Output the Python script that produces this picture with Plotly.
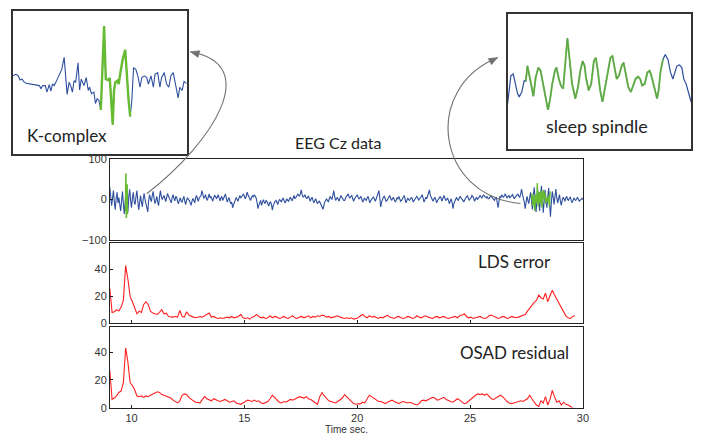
import plotly.graph_objects as go

W, H = 702, 442

# ---------------- data ----------------
EEG_T0, EEG_DT = 9.04, 0.04
eeg_uv = [
    30, 8, -15, 4, 22, -6, -25, 2, 18, -8, 5, -12, -28, -4, 20, -10, -35, -5, 15, -14,
    -30, 6, 25, -2, -20, 4, 18, -6, -12, 8, 22, -4, -25, -8, 10, -6, -18, 2, 15, 0,
    -8, -20, -30, -4, 12, 2, -5, 10, 20, 2, -10, -2, 8, -6, -15, 6, 22, 8, 0, 6,
    10, 2, -5, 6, 15, 8, 2, -6, -8, 4, 12, 3, -3, 8, 6, -4, -10, -2, 4, -4,
    -6, 2, 8, -4, -12, -2, 5, 0, -2, -8, -14, -4, 3, -2, -8, 4, 10, 2, -4, 4,
    6, 10, 22, 8, 4, 6, 12, 2, -2, 6, 14, 4, 8, 2, -4, 4, 10, 8, 3, 6,
    12, 4, -3, 4, 8, -2, 2, 8, 14, 2, -6, 0, 5, -4, -10, -6, -20, -12, -8, 0,
    5, 0, -4, 4, 10, 4, 6, 10, 14, 6, 2, 8, 18, 12, 8, 4, -2, 6, 10, 6,
    12, 8, 4, -6, -22, -14, -8, -2, -14, -6, 0, -6, -10, -2, -4, -10, -16, -8, -6, -12,
    -26, -14, -8, -4, -2, -8, -12, -4, 0, -2, -6, 0, 4, -2, -8, -4, 2, -2, -4, 2,
    6, 0, -2, 4, 10, 2, 4, 8, 14, 10, 8, 14, 24, 12, 6, 8, 12, 6, 2, 6,
    8, 2, -4, 2, 6, -2, -8, -2, 2, -4, -10, -6, -4, -8, -12, -18, -24, -12, -6, -2,
    2, -2, -6, 2, 8, 4, 0, 10, 22, 8, -2, 2, 6, 0, -4, 4, 10, 6, 2, -2,
    -2, 4, 8, 10, 14, 6, 4, 8, 10, 2, -4, 2, 6, 8, 12, 6, 2, 4, 8, 2,
    -6, -2, 4, 0, -2, 4, 8, 0, -8, -2, 2, 4, 6, 0, -4, 2, 10, 14, 22, 4,
    -18, -6, 4, 6, 8, 2, -4, -2, 2, 6, 10, 4, -2, 2, 6, 0, -6, -2, 4, 2,
    8, 2, -4, -2, 2, 6, 10, 2, -8, -2, 4, 0, -2, 2, 6, 2, -6, -2, 2, 4,
    8, 4, -2, 2, 4, 8, 12, 4, -6, 0, 6, 2, 10, 16, 24, 10, 4, 0, -4, 2,
    6, 0, -8, -2, 2, 4, 8, 2, -4, 4, 10, 4, -2, 0, 4, -2, -10, -4, 2, -6,
    -22, -10, -4, 2, 6, 0, -2, 4, 8, 4, 2, -2, -6, 0, 4, 6, 10, 4, -2, 2,
    4, 10, 8, 2, -4, 2, 6, 0, 2, 6, 10, 6, 4, 8, 12, 8, 6, 4, 8, 2,
    2, 6, 10, 6, 4, 0, -2, 4, 6, -6, -20, -4, 8, 4, 12, 8, 6, 10, 14, 8,
    4, 8, 10, 4, 6, 10, 12, 6, 2, 6, 8, 12, 14, 8, 6, 14, 26, 12, 4, -6,
    -22, -6, 8, -2, -10, 6, 18, -4, -24, 8, 30, 2, -30, -6, 22, 4, -28, 10, 34, 6,
    -32, -4, 24, 4, -20, 6, 28, -8, -42, -6, 20, 6, -12, 8, 26, 4, -8, 2, 12, -4,
    -14, -2, 6, 2, -4, 4, 8, 0, -2, 4, 6, -2, -8, -2, 4, 0, -2, 2, 6, 0,
    -4, -1, 2, 3, 0,
]

ERR_T0, ERR_DT = 9.04, 0.1
lds_error = [
    26, 8, 8.5, 10, 9, 12, 17, 43, 33, 20,
    16, 12, 7, 9, 8, 14, 16, 14, 9, 7.5,
    7, 6.5, 8, 10, 7, 7.5, 5, 4.5, 4.5, 5,
    4.5, 9.5, 5, 4.5, 8.5, 6, 5, 4.5, 4, 4.5,
    5, 4.5, 5.5, 7, 7.5, 4.5, 5, 4, 3.5, 4,
    3.5, 4, 4.5, 4, 5, 4, 4.5, 5, 6.5, 4,
    3.5, 4, 3, 4.5, 5, 6.5, 5, 4, 4.5, 3.5,
    4, 5.5, 4, 5, 4.5, 3.5, 4, 5, 4, 3.5,
    4.5, 5.5, 4, 3.5, 4.5, 5, 4, 4.5, 5.5, 4,
    5, 4.5, 5.5, 5, 6, 5.5, 4.5, 5, 4, 4.5,
    5, 5.5, 4.5, 4, 3.5, 4, 3.5, 4, 3, 3.5,
    4, 5.5, 6.5, 5, 4, 5.5, 4.5, 5, 4, 3.5,
    4.5, 4, 5, 6, 4.5, 4, 3.5, 4.5, 5, 4,
    3.5, 4, 5, 4.5, 3.5, 4, 5.5, 4.5, 4, 5,
    5.5, 4.5, 4, 3.5, 4.5, 5, 4, 4.5, 5, 4,
    3.5, 4, 4.5, 5, 4, 5.5, 6, 7, 5, 4,
    4.5, 3.5, 4, 4.5, 5, 4, 3.5, 4, 5.5, 6,
    5, 4, 3.5, 4, 5, 4.5, 3.5, 4, 5, 4.5,
    4, 4.5, 5, 6, 6.5, 9, 11.5, 13, 15.5, 17,
    21, 19, 18, 22.5, 16, 20.5, 24.5, 21, 18, 14,
    12, 8, 5.5, 4, 3.5, 5, 5.5,
]

osad_residual = [
    27, 6, 7, 8.5, 11, 12, 18, 43, 33, 18,
    16, 13, 8.5, 8, 8.5, 7.5, 8.5, 8, 9, 10,
    10.5, 11.5, 11, 9.5, 9, 8.5, 8, 7, 5.5, 4.5,
    3.5, 5, 9, 10, 9.5, 7.5, 6, 5, 4, 3.5,
    3.5, 6, 8, 6.5, 5.5, 5, 6.5, 5.5, 5, 4.5,
    5.5, 6, 5, 4, 4.5, 5, 3.5, 3, 2.5, 3.5,
    4.5, 5.5, 5, 4.5, 5.5, 4.5, 5, 3.5, 3, 4,
    4.5, 6.5, 9, 7.5, 5.5, 4, 3.5, 4.5, 4, 5,
    6, 5.5, 6.5, 7, 8, 7.5, 7, 8, 6.5, 6,
    5, 3.5, 2.5, 8, 11, 8.5, 6.5, 5, 4.5, 4,
    3.5, 4.5, 5.5, 7, 9.5, 8, 6, 4.5, 3, 2.5,
    2.5, 3, 4, 3.5, 6.5, 9, 8, 7, 5.5, 4.5,
    4.5, 3.5, 3, 4, 5, 5.5, 4.5, 3.5, 3, 4,
    4.5, 4, 3.5, 4, 3, 2.5, 2, 3, 5, 5.5,
    5, 6, 6.5, 7.5, 7, 5.5, 6, 7, 7.5, 6,
    5, 4.5, 4, 5, 6.5, 5.5, 4, 3, 3.5, 5,
    6.5, 8, 9, 10, 9.5, 10, 9, 10, 8, 6.5,
    6, 7, 8, 9, 8, 6, 4.5, 3.5, 3, 3.5,
    4, 5, 5, 4.5, 5.5, 6.5, 9, 6, 4, 2,
    1, 5, 3.5, 8, 2, 6, 12.5, 8, 4, 5,
    2, 4, 2.5, 2, 1, 0,
]

# K-complex close-up (sample index, amplitude)
kc_idx = [0, 2.7, 5, 7.3, 9.3, 10.7, 13.3, 18.3, 23.3, 26.7, 28.3, 30, 32.7, 34.3,
          36.7, 38.3, 40, 41.7, 43.3, 46.7, 49.3, 51.7, 53.3, 54.7, 56.7, 58.3, 60,
          61.7, 63.3, 65.7, 67.3, 69, 71.7, 74, 76, 77.3, 79.3, 81.7, 83.3, 85, 86.7,
          88.7, 92, 93.7, 96, 97.7, 99.3, 100.7, 102, 103.3, 105.3, 106.7, 108.7,
          110.7, 113.3, 114.7, 116.7, 118.3, 120, 121.7, 124, 126, 128.3, 130, 132.7,
          135, 136.7, 139.3, 141.7, 143.3, 146, 148.3, 150, 152.7, 155, 157.3, 159.3,
          161.7, 164, 166.7, 168.3, 170.7, 172.7, 175]
kc_val = [12.5, 15, 13.5, 6, 7.5, 4, 1, 0, -1.5, -2.5, -7.5, -2.5, -2.5, -12.5,
          -1, -11, 0, -2.5, 2.5, 12.5, 22.5, 41, 7.5, -16, 2.5, -2.5, -12.5,
          5, 2.5, 32.5, -9, 7.5, -2.5, 10, -10, -5, -15, -12.5, -30, -22.5, -25,
          -40, 89, 7.5, 6, 9, -25, -62.5, -10, 2.5, 5, 0, 20,
          37.5, 52.5, 15, -25, -50, -25, 25, 22.5, 12.5, -5, 10, 12.5,
          10, 0, 12.5, -5, 15, 17.5, -5, 10, 17.5, 0, -5, 12.5,
          17.5, 0, -21.5, -5, -10, 4, 1]
KC_GREEN = (88.7, 118.3)

# sleep spindle close-up (sample index, amplitude)
sp_idx = [0, 1.7, 3.3, 5.7, 7.7, 10, 11.7, 14.3, 16.7, 18.3, 20, 21.7, 23.3, 26, 28.3,
          31, 33.3, 35.7, 38.3, 40.7, 42.7, 45, 47.7, 49.3, 51.7, 53.7, 56, 58.3, 60.3,
          61.7, 63.3, 65, 68.3, 71, 73.3, 75.7, 77.7, 79, 81.7, 84.3, 87, 89, 91, 93.3,
          95.7, 98.3, 101, 103.7, 105.7, 107.7, 110, 112.3, 115, 117, 119, 121.7, 124.3,
          126.7, 129, 131.7, 133.7, 135.7, 138.3, 141, 143.3, 145, 147.7, 150.7, 152.3,
          154.3, 156.7, 159, 161.7, 164.3, 166.7, 168.3, 170.7, 173.3, 175.7, 177.7, 180,
          182.3, 185]
sp_val = [-35, -10, 7.5, 10, -5, -20, -25, -17.5, 0, -1, 22.5, 10, -5, -24, 5,
          20, 15, -5, -30, -45, -30, -5, 15, 20, 2.5, -7.5, -12.5, 35, 65,
          45, 15, -5, -27.5, -10, 15, 30, 22.5, 5, -15, -5, 30, 35, 15, -15,
          -32.5, -10, 15, 35, 37.5, 20, 2.5, 7.5, 22.5, 27.5, 12.5, -10, -17.5,
          -7.5, 2.5, 6, 2.5, -7.5, -5, 12.5, 15, 7.5, -10, -27.5, -15,
          15, 32.5, 40, 32.5, 12.5, 2.5, 10, 22.5, 24, 20, 2.5, -5,
          -17.5, -32.5]
SP_GREEN = (18.3, 156.7)

# placement of the close-ups on the time axis of the main trace
KC_T0, KC_DT, KC_GAIN = 9.50, 0.0027, 0.72
SP_T0, SP_DT, SP_GAIN = 27.62, 0.005925, 0.62

X_RANGE = [9.05, 30]
x_ticks = [10, 15, 20, 25, 30]
eeg_ticks = [-100, 0, 100]
err_ticks = [0, 20, 40]

# ---------------- styling ----------------
BLUE = "#2d4f9e"
GREEN = "#66bb33"
RED = "#ff1f1f"
AX = "#222222"
TICKFONT = dict(family="Liberation Sans, Arial", size=11, color="#333333")
TXTFONT = "Lato, Open Sans, sans-serif"


def px(x):
    return x / W


def py(y):
    return 1 - y / H


eeg_t = [EEG_T0 + EEG_DT * i for i in range(len(eeg_uv))]
lds_t = [ERR_T0 + ERR_DT * i for i in range(len(lds_error))]
osad_t = [ERR_T0 + ERR_DT * i for i in range(len(osad_residual))]

kc_g = [(i, v) for i, v in zip(kc_idx, kc_val) if KC_GREEN[0] <= i <= KC_GREEN[1]]
sp_g = [(i, v) for i, v in zip(sp_idx, sp_val) if SP_GREEN[0] <= i <= SP_GREEN[1]]

fig = go.Figure()

# main EEG
fig.add_trace(go.Scatter(x=eeg_t, y=eeg_uv, mode="lines", line=dict(color=BLUE, width=1.1),
                         xaxis="x", yaxis="y"))
fig.add_trace(go.Scatter(x=[KC_T0 + i * KC_DT for i, _ in kc_g],
                         y=[v * KC_GAIN for _, v in kc_g], mode="lines",
                         line=dict(color=GREEN, width=1.6), xaxis="x", yaxis="y"))
fig.add_trace(go.Scatter(x=[SP_T0 + i * SP_DT for i, _ in sp_g],
                         y=[v * SP_GAIN for _, v in sp_g], mode="lines",
                         line=dict(color=GREEN, width=1.4), xaxis="x", yaxis="y"))
# LDS error
fig.add_trace(go.Scatter(x=lds_t, y=lds_error, mode="lines", line=dict(color=RED, width=1.1),
                         xaxis="x2", yaxis="y2"))
# OSAD residual
fig.add_trace(go.Scatter(x=osad_t, y=osad_residual, mode="lines", line=dict(color=RED, width=1.1),
                         xaxis="x3", yaxis="y3"))
# K-complex inset
fig.add_trace(go.Scatter(x=kc_idx, y=kc_val, mode="lines", line=dict(color=BLUE, width=1.1),
                         xaxis="x4", yaxis="y4"))
fig.add_trace(go.Scatter(x=[i for i, _ in kc_g], y=[v for _, v in kc_g], mode="lines",
                         line=dict(color=GREEN, width=2.4), xaxis="x4", yaxis="y4"))
# spindle inset
fig.add_trace(go.Scatter(x=sp_idx, y=sp_val, mode="lines", line=dict(color=BLUE, width=1.2),
                         xaxis="x5", yaxis="y5"))
fig.add_trace(go.Scatter(x=[i for i, _ in sp_g], y=[v for _, v in sp_g], mode="lines",
                         line=dict(color=GREEN, width=2.0), opacity=0.8,
                         xaxis="x5", yaxis="y5"))

main_dom = [px(111), px(588)]
common_x = dict(range=X_RANGE, domain=main_dom, showgrid=False, zeroline=False,
                showline=True, linecolor=AX, linewidth=1, mirror=True,
                ticks="inside", ticklen=3, tickcolor=AX, tickvals=x_ticks,
                tickfont=TICKFONT)
common_y = dict(showgrid=False, zeroline=False, showline=True, linecolor=AX, linewidth=1,
                mirror=True, ticks="inside", ticklen=3, tickcolor=AX, tickfont=TICKFONT)
inset_ax = dict(showgrid=False, zeroline=False, showline=True, linecolor="#333333",
                linewidth=1.5, mirror=True, showticklabels=False, ticks="")

fig.update_layout(
    width=W, height=H, margin=dict(l=0, r=0, t=0, b=0),
    paper_bgcolor="white", plot_bgcolor="white", showlegend=False,
    xaxis=dict(common_x, anchor="y", showticklabels=False, ticks=""),
    yaxis=dict(common_y, domain=[py(241), py(157)], range=[-100, 100], tickvals=eeg_ticks,
               anchor="x"),
    xaxis2=dict(common_x, anchor="y2", showticklabels=False),
    yaxis2=dict(common_y, domain=[py(326), py(244)], range=[0, 59.6], tickvals=err_ticks,
                anchor="x2"),
    xaxis3=dict(common_x, anchor="y3", showticklabels=True),
    yaxis3=dict(common_y, domain=[py(413), py(330)], range=[0, 58], tickvals=err_ticks,
                anchor="x3"),
    xaxis4=dict(inset_ax, domain=[px(13), px(189)], range=[0, 176], anchor="y4"),
    yaxis4=dict(inset_ax, domain=[py(152), py(5)], range=[-107.5, 112.5], anchor="x4"),
    xaxis5=dict(inset_ax, domain=[px(512), px(697)], range=[0, 185], anchor="y5"),
    yaxis5=dict(inset_ax, domain=[py(147), py(8)], range=[-105, 102.5], anchor="x5"),
)


def ann(text, x, y, size, family=TXTFONT, color="#222222"):
    fig.add_annotation(text=text, x=px(x), y=py(y), xref="paper", yref="paper",
                       showarrow=False, xanchor="center", yanchor="middle",
                       font=dict(family=family, size=size, color=color))


ann("EEG Cz data", 341, 140, 16)
ann("K-complex", 68, 133, 17)
ann("sleep spindle", 602, 123, 18)
ann("LDS error", 519, 263, 17)
ann("OSAD residual", 519, 356, 17)
ann("Time sec.", 349, 435, 10, family="Liberation Sans, Arial", color="#333333")


def bez(p0, p1, p2, p3, t):
    u = 1 - t
    return tuple(u ** 3 * a + 3 * u * u * t * b + 3 * u * t * t * c + t ** 3 * d
                 for a, b, c, d in zip(p0, p1, p2, p3))


def arrow(p0, p1, p2, p3, color="#707070"):
    path = (f"M {px(p0[0])},{py(p0[1])} C {px(p1[0])},{py(p1[1])} "
            f"{px(p2[0])},{py(p2[1])} {px(p3[0])},{py(p3[1])}")
    fig.add_shape(type="path", path=path, xref="paper", yref="paper",
                  line=dict(color=color, width=1.1), layer="above")
    q = bez(p0, p1, p2, p3, 0.93)
    dx, dy = p3[0] - q[0], p3[1] - q[1]
    n = (dx * dx + dy * dy) ** 0.5
    dx, dy = dx / n, dy / n
    L, Wd = 9, 3.6
    bx, by = p3[0] - L * dx, p3[1] - L * dy
    a = (bx - Wd * dy, by + Wd * dx)
    b = (bx + Wd * dy, by - Wd * dx)
    tri = (f"M {px(p3[0])},{py(p3[1])} L {px(a[0])},{py(a[1])} "
           f"L {px(b[0])},{py(b[1])} Z")
    fig.add_shape(type="path", path=tri, xref="paper", yref="paper",
                  line=dict(color=color, width=0.5), fillcolor=color, layer="above")


arrow((148, 193), (215, 140), (265, 60), (192, 47))
arrow((525, 203), (440, 195), (425, 85), (502, 53))

fig.write_html("out.html")
